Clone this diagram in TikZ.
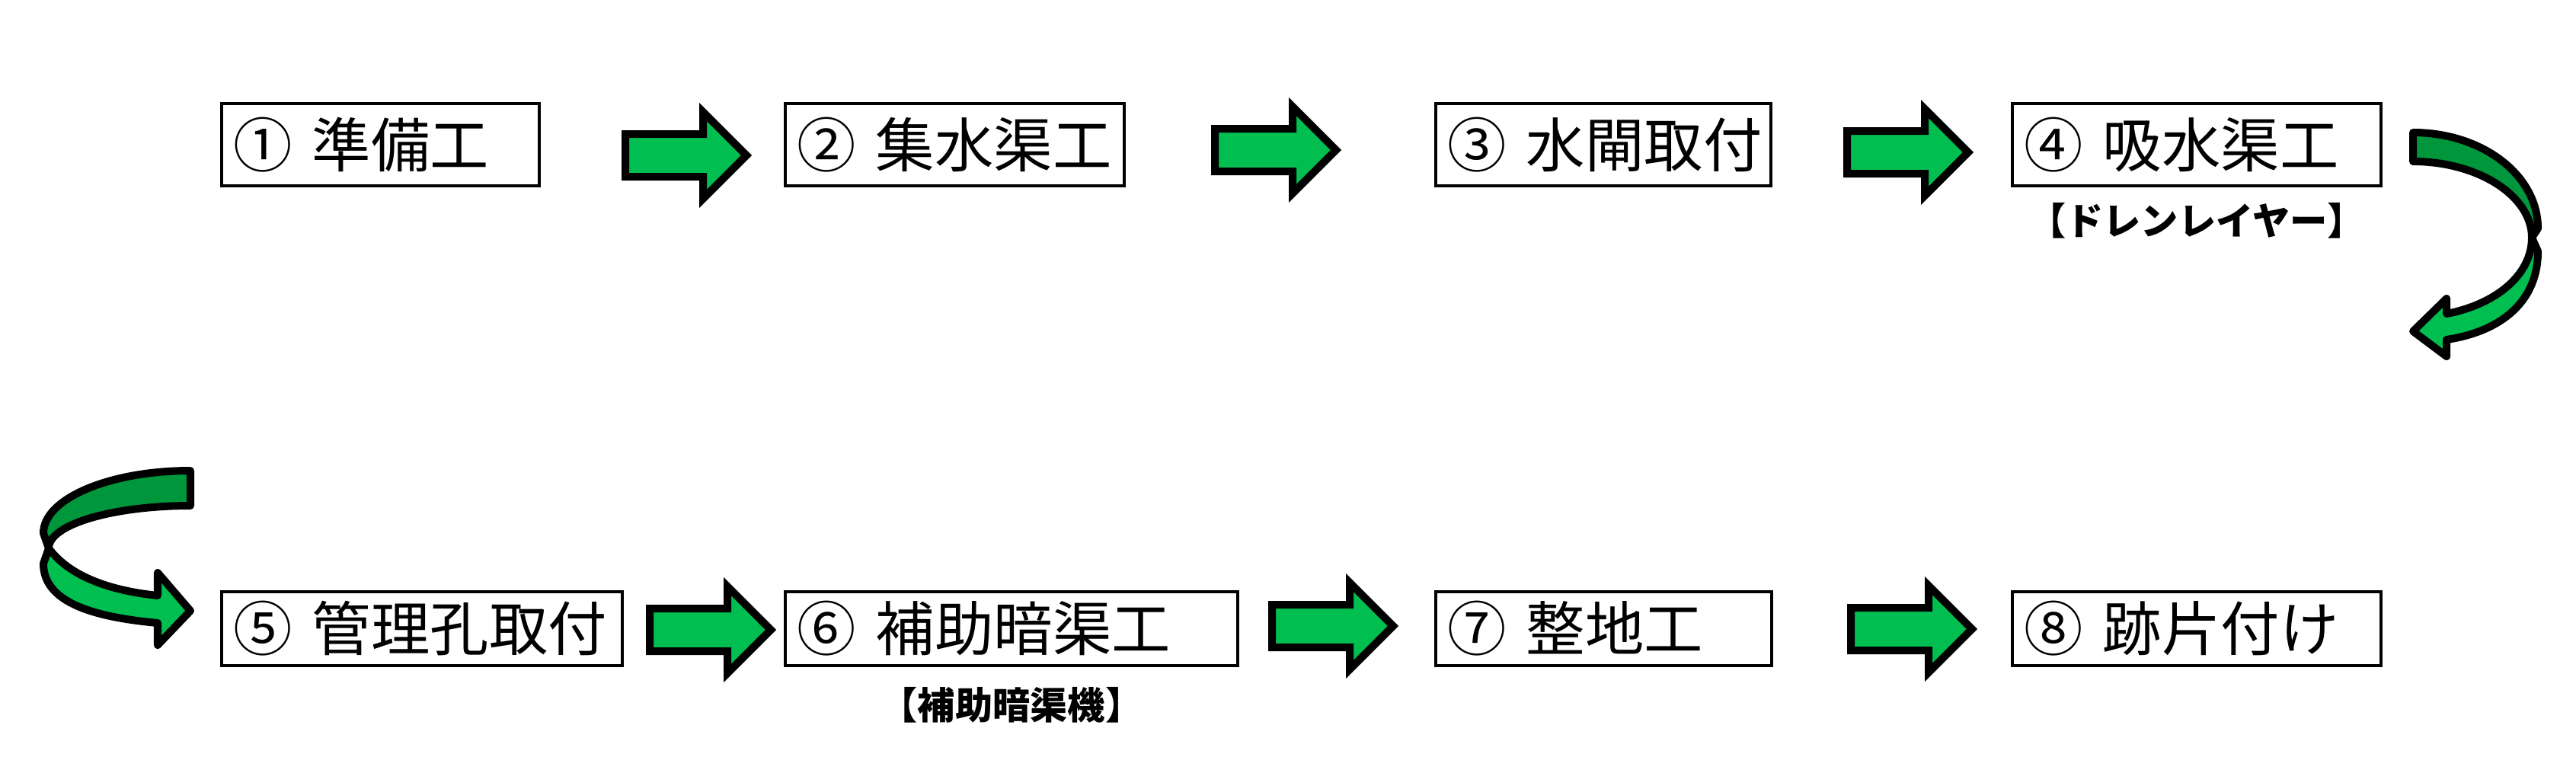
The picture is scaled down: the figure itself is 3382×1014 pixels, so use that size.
\documentclass[tikz,border=0pt]{standalone}
\usepackage{fontspec}
\setmainfont{Noto Sans CJK JP}
\usetikzlibrary{positioning}
\definecolor{arrowgreen}{RGB}{0,190,80}
\definecolor{backgreen}{RGB}{0,150,60}
\tikzset{
  stepbox/.style={draw, line width=1pt, anchor=north west, inner xsep=0.16cm, inner ysep=0pt, align=left, font=\fontsize{22}{26}\selectfont},
  note/.style={inner sep=0pt, font=\fontsize{14}{17}\selectfont\bfseries},
  flowarrow/.style={draw, line width=0.1cm, fill=arrowgreen, line join=miter},
  turnarrow/.style={draw, line width=0.1cm, line join=round},
}
\begin{document}
\begin{tikzpicture}[x=0.01cm, y=-0.01cm]
  \useasboundingbox (0,0) rectangle (3382,1014);

  \node[stepbox, text width=3.85cm, minimum height=1.08cm] (s1) at (289,134) {①~準備工};
  \node[stepbox, text width=4.13cm, minimum height=1.08cm] (s2) at (1029,134) {②~集水渠工};
  \node[stepbox, text width=4.08cm, minimum height=1.08cm] (s3) at (1883,134) {③~水閘取付};
  \node[stepbox, text width=4.52cm, minimum height=1.08cm] (s4) at (2640,134) {④~吸水渠工};
  \node[stepbox, text width=4.94cm, minimum height=0.97cm] (s5) at (289,775) {⑤~管理孔取付};
  \node[stepbox, text width=5.62cm, minimum height=0.97cm] (s6) at (1029,775) {⑥~補助暗渠工};
  \node[stepbox, text width=4.09cm, minimum height=0.97cm] (s7) at (1883,775) {⑦~整地工};
  \node[stepbox, text width=4.52cm, minimum height=0.97cm] (s8) at (2640,775) {⑧~跡片付け};

  \node[note, below=0.2cm of s4] (n4) {【ドレンレイヤー】};
  \node[note, below=0.26cm of s6] (n6) {【補助暗渠機】};

  \foreach \x/\y in {816/204, 1590/197, 2420/200, 848/827, 1665/822, 2425/826} {
    \draw[flowarrow] (\x,\y) ++(5,-28) -- ++(102,0) -- ++(0,-29) -- ++(57,57) -- ++(-57,57) -- ++(0,-29) -- ++(-102,0) -- cycle;
  }

  % turn from step 4 down to step 5
  \draw[turnarrow, fill=backgreen] (3168,174) .. controls (3259,174) and (3332,230) .. (3332,300) -- (3324,312) .. controls (3324,257) and (3253,212) .. (3168,212) -- cycle;
  \draw[turnarrow, fill=arrowgreen] (3324,312) -- (3332,330) .. controls (3332,395) and (3285,435) .. (3212,446) -- (3212,468) -- (3168,435) -- (3212,392) -- (3212,412) .. controls (3275,400) and (3324,362) .. (3324,312) -- cycle;

  \draw[turnarrow, fill=backgreen] (250,618) .. controls (143,618) and (57,655) .. (57,700) -- (64,720) .. controls (64,688) and (150,664) .. (250,664) -- cycle;
  \draw[turnarrow, fill=arrowgreen] (64,720) -- (57,740) .. controls (57,790) and (120,810) .. (207,818) -- (207,847) -- (250,802) -- (207,752) -- (207,782) .. controls (140,775) and (90,755) .. (64,720) -- cycle;
\end{tikzpicture}
\end{document}
